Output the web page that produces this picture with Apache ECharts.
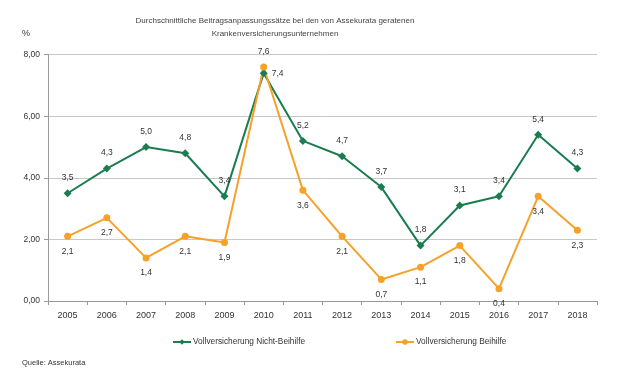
<!DOCTYPE html>
<html><head><meta charset="utf-8">
<script src="https://cdn.jsdelivr.net/npm/echarts@6/dist/echarts.min.js"></script>
<style>html,body{margin:0;padding:0;background:#fff}#c{width:621px;height:383px}</style>
</head><body><div id="c"></div>
<script>
const years = ['2005','2006','2007','2008','2009','2010','2011','2012','2013','2014','2015','2016','2017','2018'];
const nichtBeihilfe = [3.5,4.3,5.0,4.8,3.4,7.4,5.2,4.7,3.7,1.8,3.1,3.4,5.4,4.3];
const beihilfe = [2.1,2.7,1.4,2.1,1.9,7.6,3.6,2.1,0.7,1.1,1.8,0.4,3.4,2.3];
const seriesNames = ['Vollversicherung Nicht-Beihilfe','Vollversicherung Beihilfe'];
const titleText = 'Durchschnittliche Beitragsanpassungssätze bei den von Assekurata geratenen\nKrankenversicherungsunternehmen';
const greenPos = ['top','top','top','top','top','right','top','top','top','top','top','top','top','top'];
const orangePos = ['bottom','bottom','bottom','bottom','bottom','top','bottom','bottom','bottom','bottom','bottom','bottom','bottom','bottom'];

const GREEN = '#1b7d4f', ORANGE = '#f5a12a';
const FONT = 'Liberation Sans, Arial, sans-serif';
const fmt1 = v => v.toFixed(1).replace('.', ',');

function mk(vals, pos) {
  return vals.map((v, i) => ({
    value: v,
    label: { position: pos[i], distance: pos[i] === 'right' ? 4 : 7 }
  }));
}

const chart = echarts.init(document.getElementById('c'), null, {renderer: 'canvas'});
chart.setOption({
  animation: false,
  textStyle: { fontFamily: FONT },
  title: {
    text: titleText, left: 270, top: 9, textAlign: 'center',
    textStyle: { fontSize: 8, fontWeight: 'normal', color: '#444', lineHeight: 13, fontFamily: FONT }
  },
  grid: { left: 48, right: 24, top: 54.7, bottom: 82 },
  xAxis: {
    type: 'category', data: years, boundaryGap: true,
    axisLine: { lineStyle: { color: '#999' } },
    axisTick: { show: true, length: 4, lineStyle: { color: '#999' } },
    axisLabel: { color: '#333', fontSize: 9, margin: 10, fontFamily: FONT }
  },
  yAxis: {
    type: 'value', min: 0, max: 8, interval: 2,
    axisLine: { show: true, lineStyle: { color: '#999' } },
    axisTick: { show: true, length: 4, lineStyle: { color: '#999' } },
    splitLine: { lineStyle: { color: '#c8c8c8' } },
    axisLabel: { color: '#333', fontSize: 8.5, margin: 8, formatter: v => v.toFixed(2).replace('.', ','), fontFamily: FONT }
  },
  legend: [
    { data: [seriesNames[0]], left: 167, top: 333, itemWidth: 18, itemHeight: 7, itemGap: 4,
      textStyle: { fontSize: 8.3, color: '#333', fontFamily: FONT, padding: [0,0,0,-3] } },
    { data: [seriesNames[1]], left: 390, top: 333, itemWidth: 18, itemHeight: 7, itemGap: 4,
      textStyle: { fontSize: 8.3, color: '#333', fontFamily: FONT, padding: [0,0,0,-3] } }
  ],
  graphic: [
    { type: 'text', left: 22, top: 29, style: { text: '%', fontSize: 9, fill: '#333', fontFamily: FONT } },
    { type: 'text', left: 22, top: 359, style: { text: 'Quelle: Assekurata', fontSize: 7.5, fill: '#333', fontFamily: FONT } }
  ],
  series: [
    { name: seriesNames[0], type: 'line', data: mk(nichtBeihilfe, greenPos),
      symbol: 'diamond', symbolSize: 8, color: GREEN,
      lineStyle: { width: 2, color: GREEN }, itemStyle: { color: GREEN },
      label: { show: true, fontSize: 8.5, color: '#333', formatter: p => fmt1(p.value), fontFamily: FONT } },
    { name: seriesNames[1], type: 'line', data: mk(beihilfe, orangePos),
      symbol: 'circle', symbolSize: 7, color: ORANGE,
      lineStyle: { width: 2, color: ORANGE }, itemStyle: { color: ORANGE },
      label: { show: true, fontSize: 8.5, color: '#333', formatter: p => fmt1(p.value), fontFamily: FONT } }
  ]
});
</script></body></html>
